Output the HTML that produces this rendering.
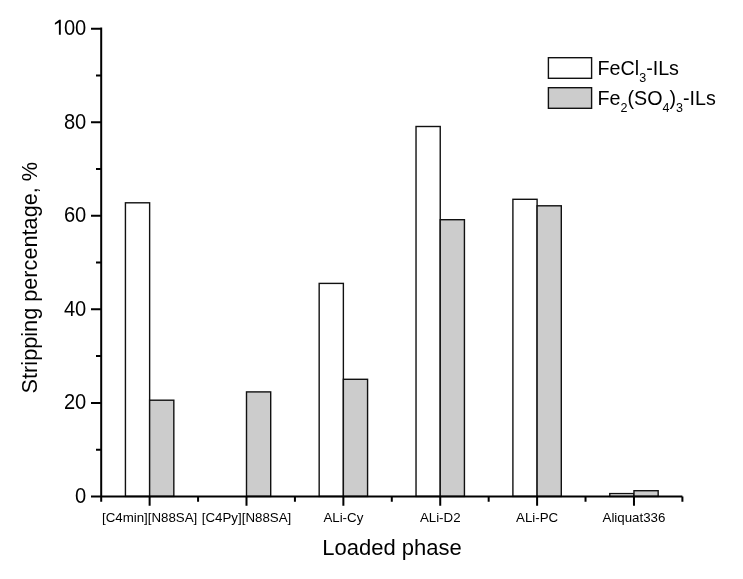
<!DOCTYPE html>
<html><head><meta charset="utf-8"><style>
html,body{margin:0;padding:0;background:#fff;width:743px;height:579px;overflow:hidden}
svg{display:block;will-change:transform;font-family:"Liberation Sans",sans-serif}
</style></head><body>
<svg width="743" height="579" viewBox="0 0 743 579" fill="#000">
<rect x="125.43" y="202.80" width="24.20" height="293.60" fill="#fff" stroke="#111" stroke-width="1.4"/>
<rect x="149.63" y="400.20" width="24.20" height="96.20" fill="#cccccc" stroke="#111" stroke-width="1.4"/>
<rect x="246.50" y="391.90" width="24.20" height="104.50" fill="#cccccc" stroke="#111" stroke-width="1.4"/>
<rect x="319.17" y="283.40" width="24.20" height="213.00" fill="#fff" stroke="#111" stroke-width="1.4"/>
<rect x="343.37" y="379.30" width="24.20" height="117.10" fill="#cccccc" stroke="#111" stroke-width="1.4"/>
<rect x="416.03" y="126.50" width="24.20" height="369.90" fill="#fff" stroke="#111" stroke-width="1.4"/>
<rect x="440.23" y="219.70" width="24.20" height="276.70" fill="#cccccc" stroke="#111" stroke-width="1.4"/>
<rect x="512.90" y="199.30" width="24.20" height="297.10" fill="#fff" stroke="#111" stroke-width="1.4"/>
<rect x="537.10" y="205.80" width="24.20" height="290.60" fill="#cccccc" stroke="#111" stroke-width="1.4"/>
<rect x="609.77" y="493.60" width="24.20" height="2.80" fill="#fff" stroke="#111" stroke-width="1.4"/>
<rect x="633.97" y="490.70" width="24.20" height="5.70" fill="#cccccc" stroke="#111" stroke-width="1.4"/>
<path d="M101.20 27.60V501.8 M91 496.40H682.40 M91 496.40H101.20 M91 402.88H101.20 M91 309.36H101.20 M91 215.84H101.20 M91 122.32H101.20 M91 28.80H101.20 M96 449.64H101.20 M96 356.12H101.20 M96 262.60H101.20 M96 169.08H101.20 M96 75.56H101.20 M149.63 496.40V505.8 M246.50 496.40V505.8 M343.37 496.40V505.8 M440.23 496.40V505.8 M537.10 496.40V505.8 M633.97 496.40V505.8 M101.20 496.40V501.8 M198.07 496.40V501.8 M294.93 496.40V501.8 M391.80 496.40V501.8 M488.67 496.40V501.8 M585.53 496.40V501.8 M682.40 496.40V501.8" stroke="#000" stroke-width="2" fill="none"/>
<text transform="translate(86.3 502.60) scale(0.935 1)" text-anchor="end" font-size="21.5">0</text>
<text transform="translate(86.3 409.08) scale(0.935 1)" text-anchor="end" font-size="21.5">20</text>
<text transform="translate(86.3 315.56) scale(0.935 1)" text-anchor="end" font-size="21.5">40</text>
<text transform="translate(86.3 222.04) scale(0.935 1)" text-anchor="end" font-size="21.5">60</text>
<text transform="translate(86.3 128.52) scale(0.935 1)" text-anchor="end" font-size="21.5">80</text>
<text transform="translate(86.3 35.00) scale(0.935 1)" text-anchor="end" font-size="21.5">00</text>
<polygon points="60.8,19.8 60.8,34.8 58.9,34.8 58.9,22.5 54.9,24.8 54.9,23.0 59.2,19.8" fill="#000"/>
<text x="149.63" y="521.8" text-anchor="middle" font-size="13.3">[C4min][N88SA]</text>
<text x="246.50" y="521.8" text-anchor="middle" font-size="13.3">[C4Py][N88SA]</text>
<text x="343.37" y="521.8" text-anchor="middle" font-size="13.3">ALi-Cy</text>
<text x="440.23" y="521.8" text-anchor="middle" font-size="13.3">ALi-D2</text>
<text x="537.10" y="521.8" text-anchor="middle" font-size="13.3">ALi-PC</text>
<text x="633.97" y="521.8" text-anchor="middle" font-size="13.3">Aliquat336</text>
<text x="392" y="554.5" text-anchor="middle" font-size="22">Loaded phase</text>
<text transform="translate(37.4 277.65) rotate(-90)" text-anchor="middle" font-size="21.7">Stripping percentage, %</text>
<rect x="548.4" y="57.7" width="43.2" height="20.6" fill="#fff" stroke="#111" stroke-width="1.4"/>
<rect x="548.4" y="87.7" width="43.2" height="20.6" fill="#cccccc" stroke="#111" stroke-width="1.4"/>
<text x="597.6" y="75" font-size="19.7">FeCl<tspan font-size="12.5" dy="7">3</tspan><tspan dy="-7">-ILs</tspan></text>
<text x="597.6" y="105" font-size="19.7">Fe<tspan font-size="12.5" dy="7">2</tspan><tspan dy="-7">(SO</tspan><tspan font-size="12.5" dy="7">4</tspan><tspan dy="-7">)</tspan><tspan font-size="12.5" dy="7">3</tspan><tspan dy="-7">-ILs</tspan></text>
</svg></body></html>
